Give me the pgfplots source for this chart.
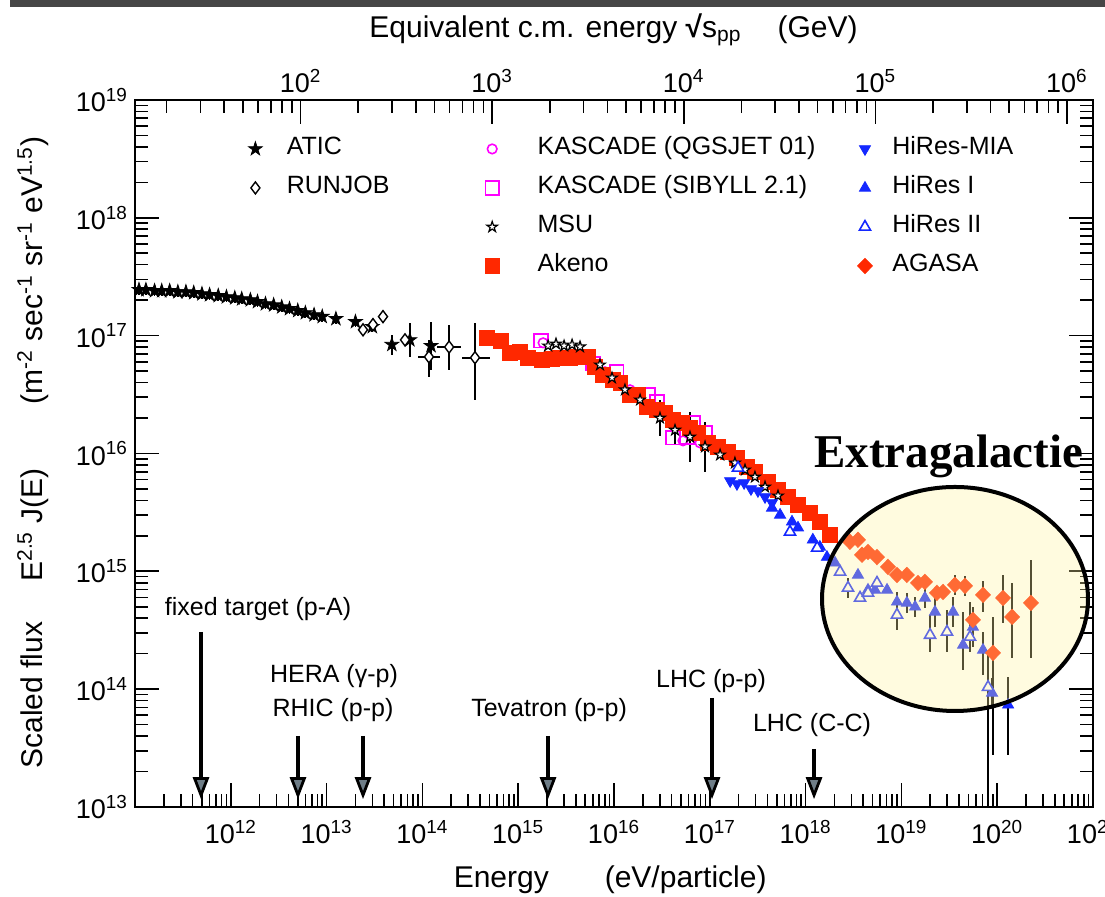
\documentclass[border=0pt]{standalone}
\usepackage{pgfplots}
\pgfplotsset{compat=1.18}
\usepackage{fontspec}
\setmainfont{Liberation Sans}
\newfontfamily\serifbold{Liberation Serif}
\usetikzlibrary{arrows.meta}
\definecolor{akeno}{RGB}{255,40,0}
\definecolor{hiblue}{RGB}{20,40,255}
\definecolor{kmag}{RGB}{255,0,255}
\definecolor{cream}{RGB}{255,242,159}
\definecolor{arrowgray}{RGB}{110,125,135}
\definecolor{topbar}{RGB}{70,70,70}

\pgfdeclareplotmark{fstar}{%
  \pgfpathmoveto{\pgfpointpolar{90}{\pgfplotmarksize}}%
  \pgfpathlineto{\pgfpointpolar{126}{0.382*\pgfplotmarksize}}%
  \pgfpathlineto{\pgfpointpolar{162}{\pgfplotmarksize}}%
  \pgfpathlineto{\pgfpointpolar{198}{0.382*\pgfplotmarksize}}%
  \pgfpathlineto{\pgfpointpolar{234}{\pgfplotmarksize}}%
  \pgfpathlineto{\pgfpointpolar{270}{0.382*\pgfplotmarksize}}%
  \pgfpathlineto{\pgfpointpolar{306}{\pgfplotmarksize}}%
  \pgfpathlineto{\pgfpointpolar{342}{0.382*\pgfplotmarksize}}%
  \pgfpathlineto{\pgfpointpolar{18}{\pgfplotmarksize}}%
  \pgfpathlineto{\pgfpointpolar{54}{0.382*\pgfplotmarksize}}%
  \pgfpathclose
  \pgfusepathqfillstroke}

\newcommand{\lfont}{\fontsize{15}{17}\selectfont}
\newcommand{\tfont}{\fontsize{13.5}{15}\selectfont}
\newcommand{\sfont}{\fontsize{12.5}{14}\selectfont}

\begin{document}
\begin{tikzpicture}[x=1pt,y=1pt]
\clip (-67.5,-45) rectangle (485,403.5);
\fill[topbar] (-62.5,400) rectangle (485,403.5);

% ---------- top axis: equivalent c.m. energy ----------
\begin{axis}[
  at={(0,0)}, anchor=south west, scale only axis,
  width=479pt, height=353.5pt,
  xmode=log, xmin=13.68, xmax=1.368e6, ymin=0, ymax=1,
  axis x line*=top, hide y axis,
  axis line style={line width=1pt},
  tick align=inside, major tick length=12pt, minor tick length=6.5pt,
  every tick/.style={black, line width=0.8pt},
  xtick={1e2,1e3,1e4,1e5,1e6},
  minor xtick={20,30,40,50,60,70,80,90,
    200,300,400,500,600,700,800,900,
    2000,3000,4000,5000,6000,7000,8000,9000,
    2e4,3e4,4e4,5e4,6e4,7e4,8e4,9e4,
    2e5,3e5,4e5,5e5,6e5,7e5,8e5,9e5},
  xticklabels={10\textsuperscript{2},10\textsuperscript{3},10\textsuperscript{4},10\textsuperscript{5},10\textsuperscript{6}},
  tick label style={font=\tfont},
  xlabel={Equivalent c.m. energy {\bfseries √}s\textsubscript{pp}\hspace{18pt}(GeV)},
  xlabel style={at={(axis description cs:0.4995,1.099)}, anchor=center, font=\lfont},
]
\addplot[draw=none, forget plot] coordinates {(100,0.5) (1000,0.5)};
\end{axis}

% ---------- main axis ----------
\begin{axis}[
  at={(0,0)}, anchor=south west, scale only axis,
  width=479pt, height=353.5pt,
  xmode=log, ymode=log,
  xmin=1e11, xmax=1e21, ymin=1e13, ymax=1e19,
  axis line style={line width=1pt},
  tick align=inside, major tick length=12pt, minor tick length=6.5pt,
  every tick/.style={black, line width=0.8pt},
  xtick pos=left, ytick pos=both, yticklabel pos=left,
  xtick={1e12,1e13,1e14,1e15,1e16,1e17,1e18,1e19,1e20,1e21},
  minor xtick={2e11,3e11,4e11,5e11,6e11,7e11,8e11,9e11,
    2e12,3e12,4e12,5e12,6e12,7e12,8e12,9e12,
    2e13,3e13,4e13,5e13,6e13,7e13,8e13,9e13,
    2e14,3e14,4e14,5e14,6e14,7e14,8e14,9e14,
    2e15,3e15,4e15,5e15,6e15,7e15,8e15,9e15,
    2e16,3e16,4e16,5e16,6e16,7e16,8e16,9e16,
    2e17,3e17,4e17,5e17,6e17,7e17,8e17,9e17,
    2e18,3e18,4e18,5e18,6e18,7e18,8e18,9e18,
    2e19,3e19,4e19,5e19,6e19,7e19,8e19,9e19,
    2e20,3e20,4e20,5e20,6e20,7e20,8e20,9e20},
  xticklabels={10\textsuperscript{12},10\textsuperscript{13},10\textsuperscript{14},10\textsuperscript{15},10\textsuperscript{16},10\textsuperscript{17},10\textsuperscript{18},10\textsuperscript{19},10\textsuperscript{20},10\textsuperscript{21}},
  ytick={1e13,1e14,1e15,1e16,1e17,1e18,1e19},
  minor ytick={2e13,3e13,4e13,5e13,6e13,7e13,8e13,9e13,
    2e14,3e14,4e14,5e14,6e14,7e14,8e14,9e14,
    2e15,3e15,4e15,5e15,6e15,7e15,8e15,9e15,
    2e16,3e16,4e16,5e16,6e16,7e16,8e16,9e16,
    2e17,3e17,4e17,5e17,6e17,7e17,8e17,9e17,
    2e18,3e18,4e18,5e18,6e18,7e18,8e18,9e18},
  yticklabels={10\textsuperscript{13},10\textsuperscript{14},10\textsuperscript{15},10\textsuperscript{16},10\textsuperscript{17},10\textsuperscript{18},10\textsuperscript{19}},
  tick label style={font=\tfont},
  xticklabel style={yshift=-3pt},
  xlabel={Energy\hspace{28pt}(eV/particle)},
  xlabel style={at={(axis description cs:0.496,-0.103)}, anchor=center, font=\lfont},
  ylabel={Scaled flux\hspace{20pt}E\textsuperscript{2.5} J(E)\hspace{32pt}(m\textsuperscript{-2} sec\textsuperscript{-1} sr\textsuperscript{-1} eV\textsuperscript{1.5})},
  ylabel style={at={(axis description cs:-0.1065,0.5014)}, anchor=center, font=\lfont},
  error bars/error bar style={black, line width=0.9pt},
  legend columns=3,
  legend cell align=left,
  legend image code/.code={\path (-5pt,0pt) (5pt,0pt); \draw[#1] plot coordinates {(0pt,0pt)};},
  legend style={at={(0.1148,0.9477)}, anchor=north west, draw=none, fill=none,
    inner sep=0pt, outer sep=0pt, row sep=7.5pt, column sep=0pt, font=\sfont,
    nodes={inner sep=0pt, text height=9pt, text depth=3pt}},
]

% ATIC
\addplot[forget plot, only marks, black, mark=fstar, mark size=3.6pt, mark options={fill=black},
  error bars/.cd, y dir=both, y fixed relative=0.1, error mark=none]
coordinates {
(1.1e11,2.45e17) (1.3e11,2.45e17) (1.6e11,2.40e17) (1.9e11,2.40e17) (2.3e11,2.40e17)
(2.8e11,2.35e17) (3.4e11,2.35e17) (4.1e11,2.31e17) (5e11,2.26e17) (6e11,2.22e17)
(7.4e11,2.18e17) (9e11,2.13e17) (1.1e12,2.09e17) (1.3e12,2.05e17) (1.6e12,2.01e17)
(1.9e12,1.94e17) (2.3e12,1.86e17) (2.8e12,1.82e17) (3.4e12,1.75e17) (4.1e12,1.69e17)
(5e12,1.63e17) (6e12,1.56e17) (7.4e12,1.50e17) (9e12,1.45e17) (1.25e13,1.39e17)
(2e13,1.31e17) (3e13,1.19e17)
};
\addplot[forget plot, only marks, black, mark=fstar, mark size=3.6pt, mark options={fill=black},
  error bars/.cd, y dir=both, y explicit relative, error mark=none]
coordinates {
(4.8e13,8.4e16) += (0,0.216) -= (0,0.178)
(7.4e13,9.2e16) += (0,0.394) -= (0,0.283)
(1.23e14,8.2e16) += (0,0.598) -= (0,0.374)
};

% RUNJOB
\addplot[forget plot, only marks, black, mark=diamond*, mark size=3pt, mark options={fill=white, line width=0.7pt},
  error bars/.cd, x dir=both, x explicit relative, y dir=both, y explicit relative, error mark=none]
coordinates {
(2.40e13,1.12e17) (3.05e13,1.24e17) (3.88e13,1.45e17) (6.58e13,9.2e16)
(1.17e14,6.6e16) += (0.303,0.394) -= (0.233,0.323)
(1.90e14,8.0e16) += (0.335,0.537) -= (0.251,0.362)
(3.54e14,6.5e16) += (0.434,0.982) -= (0.268,0.560)
};

% KASCADE (SIBYLL 2.1)
\addplot[forget plot, only marks, kmag, mark=square, mark size=3.4pt, mark options={line width=0.8pt}]
coordinates {
(1.73e15,9.04e16) (6.04e15,5.76e16) (1.07e16,4.93e16) (2.26e16,3.14e16) (2.81e16,2.74e16)
(4.13e16,1.36e16) (5.78e16,1.38e16) (6.68e16,1.82e16) (8.91e16,1.50e16)
};
% KASCADE (QGSJET 01)
\addplot[forget plot, only marks, kmag, mark=o, mark size=2.4pt, mark options={line width=0.8pt}]
coordinates {
(1.82e15,8.69e16) (8.05e15,4.93e16) (1.47e16,3.47e16) (3.17e16,2.08e16)
(5.25e16,1.28e16) (7.91e16,1.23e16)
};

% Akeno
\addplot[forget plot, only marks, akeno, mark=square*, mark size=3.6pt]
coordinates {
(4.72e14,9.58e16) (6.61e14,9.04e16) (8.20e14,7.14e16) (1.04e15,7.28e16) (1.26e15,6.48e16)
(1.77e15,6.23e16) (2.25e15,6.35e16) (2.73e15,6.48e16) (3.47e15,6.48e16) (4.21e15,6.61e16)
(5.36e15,6.61e16) (6.34e15,5.43e16) (7.67e15,4.65e16) (9.77e15,4.22e16) (1.16e16,3.97e16)
(1.47e16,3.14e16) (1.78e16,3.14e16) (2.21e16,2.49e16) (2.81e16,2.34e16) (3.40e16,2.21e16)
(4.13e16,1.93e16) (5.13e16,1.82e16) (6.21e16,1.65e16) (7.53e16,1.50e16) (9.57e16,1.23e16)
(1.22e17,1.14e16) (1.55e17,1.03e16) (1.92e17,9.18e15) (2.44e17,7.69e15) (2.96e17,6.98e15)
(4.05e17,5.74e15) (5.15e17,4.91e15) (6.55e17,4.28e15) (8.33e17,3.66e15) (1.11e18,3.13e15)
(1.41e18,2.63e15) (1.80e18,2.04e15)
};

% MSU
\addplot[forget plot, only marks, black, mark=fstar, mark size=2.8pt, mark options={fill=white, line width=0.6pt},
  error bars/.cd, y dir=both, y explicit relative, error mark=none]
coordinates {
(2.05e15,8.19e16) (2.48e15,8.51e16) (3.01e15,8.19e16) (3.65e15,8.35e16) (4.42e15,8.04e16)
(7.14e15,5.65e16) (9.53e15,4.38e16) (1.30e16,3.47e16) (1.87e16,2.85e16)
(3.02e16,2.00e16) += (0,0.422) -= (0,0.297)
(4.33e16,1.58e16) += (0,0.341) -= (0,0.254)
(6.21e16,1.38e16) += (0,0.63) -= (0,0.386)
(8.91e16,1.14e16) += (0,0.63) -= (0,0.386)
(1.28e17,9.73e15) (1.83e17,8.32e15) (2.33e17,7.26e15) (2.96e17,6.32e15)
(3.77e17,5.20e15) (5.15e17,4.37e15)
};

% HiRes-MIA
\addplot[forget plot, only marks, hiblue, mark=triangle*, mark size=3.2pt, mark options={rotate=180}]
coordinates {
(1.63e17,5.85e15) (1.92e17,5.52e15) (2.28e17,5.63e15) (2.69e17,5.00e15)
(3.18e17,4.81e15) (3.77e17,4.28e15) (4.46e17,3.81e15)
};

% HiRes I
\addplot[forget plot, only marks, hiblue, mark=triangle*, mark size=3.2pt,
  error bars/.cd, y dir=both, y explicit relative, error mark=none]
coordinates {
(4.46e17,3.45e15) (5.41e17,3.01e15) (7.21e17,2.63e15) (8.33e17,2.34e15) (1.19e18,1.85e15)
(1.41e18,1.61e15) (1.67e18,1.32e15) (2.03e18,1.18e15) (3.52e18,9.31e14) (4.48e18,6.95e14)
(5.30e18,6.95e14) (7.08e18,6.95e14)
(8.99e18,5.50e14) += (0,0.216) -= (0,0.178)
(1.14e19,5.39e14) += (0,0.216) -= (0,0.178)
(1.39e19,4.99e14) += (0,0.216) -= (0,0.178)
(1.76e19,5.94e14) += (0,0.216) -= (0,0.178)
(2.24e19,4.52e14) += (0,0.341) -= (0,0.254)
(3.46e19,4.52e14) += (0,0.341) -= (0,0.254)
(4.40e19,2.37e14) += (0,0.906) -= (0,0.386)
(5.58e19,3.37e14) += (0,0.478) -= (0,0.323)
(7.11e19,2.15e14) += (0,0.422) -= (0,0.386)
(8.83e19,9.29e13) += (0,0.341) -= (0,0.254)
(1.30e20,7.35e13) += (0,0.729) -= (0,0.624)
};

% HiRes II
\addplot[forget plot, only marks, hiblue, mark=triangle*, mark size=3.2pt, mark options={fill=white, line width=0.8pt},
  error bars/.cd, y dir=both, y explicit relative, error mark=none]
coordinates {
(1.97e17,7.55e15) (6.87e17,2.16e15) (1.32e18,1.58e15) (2.29e18,9.88e14)
(2.77e18,7.23e14) += (0,0.216) -= (0,0.178)
(3.70e18,5.94e14) (4.48e18,6.56e14) (5.56e18,7.97e14)
(8.99e18,4.27e14) += (0,0.341) -= (0,0.254)
(1.99e19,2.88e14) += (0,0.478) -= (0,0.283)
(2.99e19,3.06e14) += (0,0.537) -= (0,0.323)
(5.20e19,2.77e14) += (0,0.982) -= (0,0.254)
(8.02e19,1.04e14) += (0,0.869) -= (0,0.999)
};

% AGASA
\addplot[forget plot, only marks, akeno, mark=diamond*, mark size=3.8pt, mark options={xscale=1.3},
  error bars/.cd, y dir=both, y explicit relative, error mark=none]
coordinates {
(2.90e18,1.78e15) (3.52e18,1.85e15) (3.88e18,1.38e15) (4.48e18,1.46e15) (5.56e18,1.32e15)
(7.24e18,1.09e15) (8.99e18,9.31e14) (1.14e19,9.31e14) (1.49e19,7.97e14) (1.76e19,8.13e14)
(2.35e19,6.56e14) (2.72e19,6.68e14)
(3.62e19,7.67e14) += (0,0.216) -= (0,0.178)
(4.61e19,7.52e14) += (0,0.216) -= (0,0.178)
(5.58e19,3.87e14) += (0,0.216) -= (0,0.178)
(7.11e19,6.31e14) += (0,0.315) -= (0,0.283)
(9.04e19,2.03e14) += (0,1.021) -= (0,0.864)
(1.15e20,5.94e14) += (0,0.567) -= (0,0.386)
(1.43e20,4.10e14) += (0,0.944) -= (0,0.551)
(2.25e20,5.39e14) += (0,1.317) -= (0,0.659)
};

% accelerator arrows
\tikzset{acc/.style={line width=1.8pt, -{Triangle[width=8pt,length=11pt,fill=arrowgray,line width=1.4pt]}}}
\draw[acc] (rel axis cs:0.0689,0.2475) -- (rel axis cs:0.0689,0.0110);
\draw[acc] (rel axis cs:0.1701,0.1004) -- (rel axis cs:0.1701,0.0110);
\draw[acc] (rel axis cs:0.2380,0.1004) -- (rel axis cs:0.2380,0.0110);
\draw[acc] (rel axis cs:0.4311,0.1004) -- (rel axis cs:0.4311,0.0110);
\draw[acc] (rel axis cs:0.6023,0.1542) -- (rel axis cs:0.6023,0.0110);
\draw[acc] (rel axis cs:0.7088,0.0820) -- (rel axis cs:0.7088,0.0110);
\node[anchor=base, font=\sfont] at (rel axis cs:0.1284,0.2702) {fixed target (p-A)};
\node[anchor=base, font=\sfont] at (rel axis cs:0.2077,0.1754) {HERA (γ-p)};
\node[anchor=base, font=\sfont] at (rel axis cs:0.2067,0.1273) {RHIC (p-p)};
\node[anchor=base, font=\sfont] at (rel axis cs:0.4322,0.1273) {Tevatron (p-p)};
\node[anchor=base, font=\sfont] at (rel axis cs:0.6013,0.1683) {LHC (p-p)};
\node[anchor=base, font=\sfont] at (rel axis cs:0.7067,0.1061) {LHC (C-C)};

% legend (3 columns, row-wise)
\addlegendimage{black, mark=fstar, mark size=3.6pt, mark options={fill=black}}
\addlegendentry{\makebox[108pt][l]{\hspace{10.5pt}ATIC}}
\addlegendimage{kmag, mark=o, mark size=2.4pt, mark options={line width=0.8pt}}
\addlegendentry{\makebox[176pt][l]{\hspace{17.5pt}KASCADE (QGSJET 01)}}
\addlegendimage{hiblue, mark=triangle*, mark size=3.2pt, mark options={rotate=180}}
\addlegendentry{\makebox[80pt][l]{\hspace{8.5pt}HiRes-MIA}}
\addlegendimage{black, mark=diamond, mark size=3pt, mark options={line width=0.7pt}}
\addlegendentry{\makebox[108pt][l]{\hspace{10.5pt}RUNJOB}}
\addlegendimage{kmag, mark=square, mark size=3.4pt, mark options={line width=0.8pt}}
\addlegendentry{\makebox[176pt][l]{\hspace{17.5pt}KASCADE (SIBYLL 2.1)}}
\addlegendimage{hiblue, mark=triangle*, mark size=3.2pt}
\addlegendentry{\makebox[80pt][l]{\hspace{8.5pt}HiRes I}}
\addlegendimage{empty legend}
\addlegendentry{\makebox[108pt][l]{}}
\addlegendimage{black, mark=fstar, mark size=2.8pt, mark options={fill=white, line width=0.6pt}}
\addlegendentry{\makebox[176pt][l]{\hspace{17.5pt}MSU}}
\addlegendimage{hiblue, mark=triangle*, mark size=3.2pt, mark options={fill=white, line width=0.8pt}}
\addlegendentry{\makebox[80pt][l]{\hspace{8.5pt}HiRes II}}
\addlegendimage{empty legend}
\addlegendentry{\makebox[108pt][l]{}}
\addlegendimage{akeno, mark=square*, mark size=3.6pt}
\addlegendentry{\makebox[176pt][l]{\hspace{17.5pt}Akeno}}
\addlegendimage{akeno, mark=diamond*, mark size=3.8pt, mark options={xscale=1.3}}
\addlegendentry{\makebox[80pt][l]{\hspace{8.5pt}AGASA}}
\end{axis}

% highlight ellipse as a semi-transparent overlay above all data
\draw[line width=2pt, fill=cream, fill opacity=0.33, draw opacity=1]
  (410.0,104.0) ellipse [x radius=66.5pt, y radius=56pt];
\node[anchor=base, font=\serifbold\bfseries\fontsize{23.5}{26}\selectfont]
  at (406.8,169.5) {Extragalactie};
\end{tikzpicture}
\end{document}
